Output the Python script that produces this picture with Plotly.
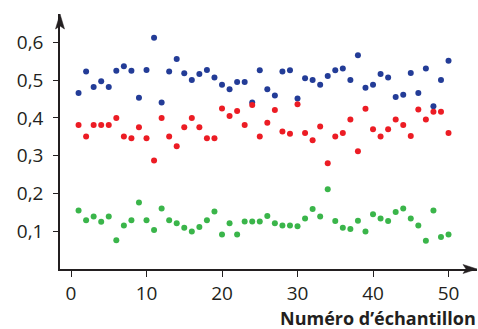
import plotly.graph_objects as go

samples = list(range(1, 51))

blue_vals = [0.466, 0.523, 0.482, 0.497, 0.482, 0.525, 0.537, 0.525, 0.453, 0.527,
             0.612, 0.441, 0.523, 0.556, 0.518, 0.500, 0.516, 0.527, 0.507, 0.488,
             0.476, 0.495, 0.495, 0.441, 0.526, 0.476, 0.459, 0.523, 0.526, 0.451,
             0.505, 0.500, 0.488, 0.511, 0.526, 0.531, 0.500, 0.566, 0.480, 0.488,
             0.516, 0.507, 0.455, 0.461, 0.519, 0.466, 0.531, 0.431, 0.500, 0.551]

red_vals = [0.381, 0.351, 0.381, 0.381, 0.381, 0.400, 0.351, 0.346, 0.375, 0.346,
            0.287, 0.400, 0.351, 0.325, 0.375, 0.400, 0.375, 0.346, 0.346, 0.425,
            0.405, 0.418, 0.381, 0.434, 0.351, 0.387, 0.421, 0.364, 0.358, 0.436,
            0.360, 0.341, 0.377, 0.280, 0.351, 0.360, 0.396, 0.312, 0.424, 0.370,
            0.351, 0.370, 0.396, 0.381, 0.352, 0.422, 0.396, 0.416, 0.416, 0.360]

green_vals = [0.155, 0.129, 0.139, 0.125, 0.139, 0.076, 0.115, 0.129, 0.176, 0.129,
              0.103, 0.160, 0.129, 0.121, 0.109, 0.099, 0.111, 0.129, 0.152, 0.091,
              0.121, 0.091, 0.126, 0.126, 0.126, 0.140, 0.121, 0.115, 0.115, 0.113,
              0.134, 0.159, 0.139, 0.211, 0.127, 0.109, 0.106, 0.128, 0.099, 0.145,
              0.134, 0.127, 0.151, 0.160, 0.134, 0.115, 0.075, 0.155, 0.085, 0.091]

x_tick_vals = [0, 10, 20, 30, 40, 50]
y_tick_vals = [0.1, 0.2, 0.3, 0.4, 0.5, 0.6]
y_tick_text = ["0,1", "0,2", "0,3", "0,4", "0,5", "0,6"]
x_title = "Numéro d’échantillon"

series = [
    (blue_vals, "#233c97"),
    (red_vals, "#ec1c24"),
    (green_vals, "#3ab54a"),
]

fig = go.Figure()
for vals, color in series:
    fig.add_trace(go.Scatter(
        x=samples, y=vals, mode="markers",
        marker=dict(color=color, size=6, line=dict(width=0)),
        showlegend=False, cliponaxis=False,
    ))

# plot area geometry (pixels)
L, R, T, B = 60, 1, 14, 60
W = 478 - L - R
H = 329 - T - B
AX = "#231f20"
FONT = "Open Sans"

fig.update_layout(
    width=478, height=329,
    margin=dict(l=L, r=R, t=T, b=B, pad=0),
    paper_bgcolor="white", plot_bgcolor="white",
    font=dict(family=FONT, size=19, color="#231f20"),
    xaxis=dict(
        range=[-1.457, 53.77], tickvals=x_tick_vals,
        showgrid=False, zeroline=False,
        showline=True, linecolor=AX, linewidth=1.5,
        ticks="outside", ticklen=6, tickwidth=1.2, tickcolor=AX,
        tickfont=dict(family=FONT, size=19, color="#231f20"),
        automargin=False,
    ),
    yaxis=dict(
        range=[0, 0.675], tickvals=y_tick_vals, ticktext=y_tick_text,
        showgrid=False, zeroline=False,
        showline=True, linecolor=AX, linewidth=1.5,
        ticks="outside", ticklen=5, tickwidth=1.2, tickcolor=AX,
        ticklabelstandoff=6,
        tickfont=dict(family=FONT, size=19, color="#231f20"),
        automargin=False,
    ),
)

def px(xp):
    return (xp - L) / W

def py(yp):
    return (T + H - yp) / H

# arrowheads at axis ends
xa_tip, xa_y = 477, T + H
xa_path = (f"M {px(xa_tip)},{py(xa_y)} L {px(xa_tip-14)},{py(xa_y-4.5)} "
           f"L {px(xa_tip-11)},{py(xa_y)} L {px(xa_tip-14)},{py(xa_y+4.5)} Z")
ya_x, ya_tip = L, 14
ya_path = (f"M {px(ya_x)},{py(ya_tip)} L {px(ya_x-4.5)},{py(ya_tip+15)} "
           f"L {px(ya_x)},{py(ya_tip+12)} L {px(ya_x+4.5)},{py(ya_tip+15)} Z")
for p in (xa_path, ya_path):
    fig.add_shape(type="path", path=p, xref="paper", yref="paper",
                  fillcolor=AX, line=dict(color=AX, width=0.5), layer="above")

fig.add_annotation(
    text=f"<b>{x_title}</b>", xref="paper", yref="paper",
    x=1, y=0, xanchor="right", yanchor="top", xshift=1, yshift=-35,
    showarrow=False, font=dict(family=FONT, size=18, color="#231f20"),
)

fig.write_html(
    "out.html",
    config={"displayModeBar": False},
    post_script="document.body.style.margin='0';document.body.style.overflow='hidden';",
)
